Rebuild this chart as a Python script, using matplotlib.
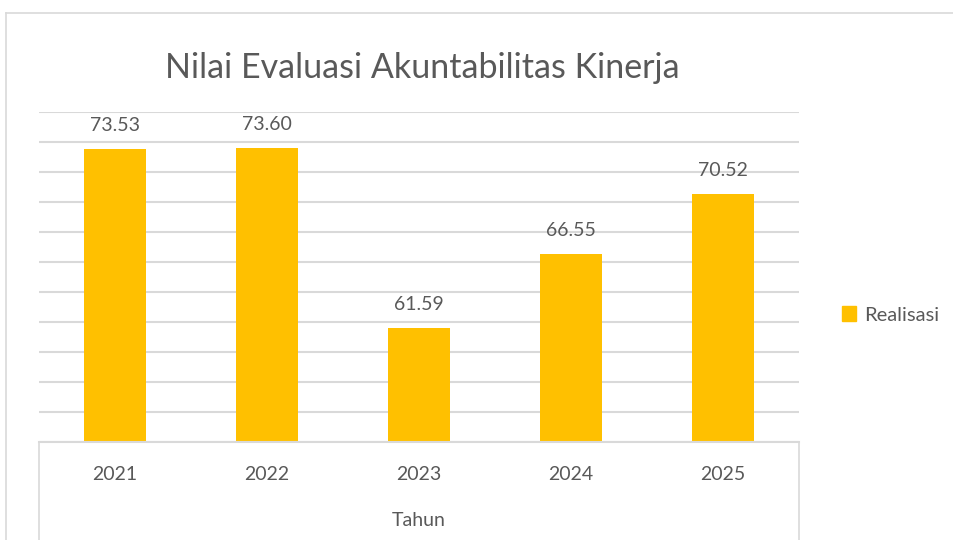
import matplotlib
matplotlib.use("Agg")
import matplotlib.pyplot as plt
from matplotlib.lines import Line2D
from matplotlib.patches import Patch

categories = ["2021", "2022", "2023", "2024", "2025"]
values = [73.53, 73.60, 61.59, 66.55, 70.52]
labels = ["73.53", "73.60", "61.59", "66.55", "70.52"]
title = "Nilai Evaluasi Akuntabilitas Kinerja"
xlabel = "Tahun"
series_name = "Realisasi"

W, H = 954, 540
fig = plt.figure(figsize=(W / 100, H / 100), dpi=100)
plt.rcParams['font.family'] = ['Lato', 'DejaVu Sans']
txt = "#595959"
grid_c = "#d9d9d9"
bar_c = "#FFC000"

def fx(px):
    return px / W

def fy(py):
    return 1 - py / H

# outer chart border
fig.add_artist(Line2D([fx(6), fx(6)], [fy(13), 0], color=grid_c, lw=1.2, transform=fig.transFigure))
fig.add_artist(Line2D([fx(6), 1], [fy(13), fy(13)], color=grid_c, lw=1.2, transform=fig.transFigure))

ax = fig.add_axes([fx(39), fy(442), fx(799) - fx(39), fy(112) - fy(442)])
x = list(range(len(categories)))
ax.bar(x, values, width=0.41, color=bar_c, zorder=3, label=series_name)
ax.set_xlim(-0.5, len(categories) - 0.5)
ax.set_ylim(54, 76)
ax.set_yticks(range(54, 77, 2))
ax.yaxis.grid(True, color=grid_c, lw=1.5, zorder=0)
ax.tick_params(axis='y', left=False, labelleft=False)
ax.tick_params(axis='x', length=0, pad=17, labelsize=14, labelcolor=txt)
ax.set_xticks(x)
ax.set_xticklabels(categories)
for s in ["top", "left", "right"]:
    ax.spines[s].set_visible(False)
ax.spines["bottom"].set_color(grid_c)
ax.spines["bottom"].set_linewidth(1.5)
ax.spines["bottom"].set_zorder(4)

for xi, v, lab in zip(x, values, labels):
    ax.annotate(lab, (xi, v), xytext=(0, 17), textcoords="offset points",
                ha="center", va="center", fontsize=14, color=txt)

# category axis box edges
fig.add_artist(Line2D([fx(39), fx(39)], [fy(442), 0], color=grid_c, lw=1.2, transform=fig.transFigure))
fig.add_artist(Line2D([fx(799), fx(799)], [fy(442), 0], color=grid_c, lw=1.2, transform=fig.transFigure))

fig.text(fx(422), fy(68), title, ha="center", va="center", fontsize=24.5, color=txt)
fig.text(fx(419), fy(520), xlabel, ha="center", va="center", fontsize=14, color=txt)

fig.legend(handles=[Patch(color=bar_c, label=series_name)], loc="center left",
           bbox_to_anchor=(fx(824), fy(315)), frameon=False, fontsize=14.5,
           handlelength=0.7, handleheight=0.7, handletextpad=0.4, labelcolor=txt)

fig.savefig("out.png", dpi=100)
